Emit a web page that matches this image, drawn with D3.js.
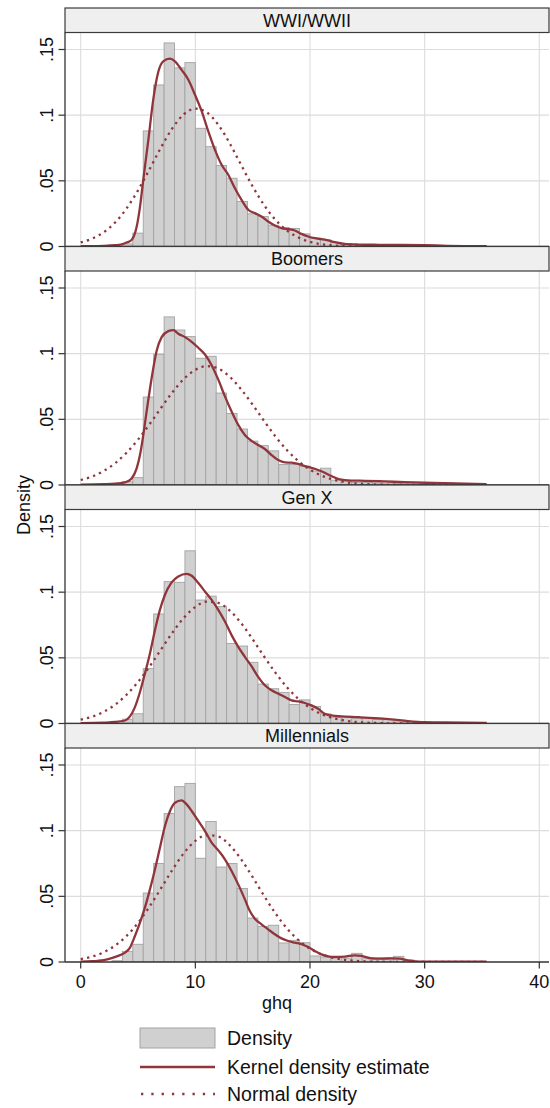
<!DOCTYPE html>
<html>
<head>
<meta charset="utf-8">
<script src="https://cdn.jsdelivr.net/npm/d3@7"></script>
<style>
  html, body { margin: 0; padding: 0; background: #ffffff; }
  svg { display: block; }
  text { font-family: "Liberation Sans", Arial, Helvetica, sans-serif; fill: #111; }
</style>
</head>
<body>
<svg id="chart" width="550" height="1108"></svg>
<script>
// ---------------- DATA ----------------
const panels = ["WWI/WWII", "Boomers", "Gen X", "Millennials"];

// histogram: bin width and start of first bin (bins are contiguous)
const binWidth = 10 / 11;
const firstBinStart = 3 * 10 / 11;   // 2.73
// densities for bins starting at 2.73, 3.64, 4.55, ... (one per bin)
const histWWI = [0, 0.002, 0.0102, 0.088, 0.123, 0.155, 0.136, 0.140, 0.090, 0.076, 0.0617, 0.052, 0.0343, 0.0249, 0.0228, 0.0162, 0.0145, 0.0137, 0.0096, 0.0063, 0.005, 0.003, 0.002, 0.0015, 0.0012, 0.0012, 0.001, 0.0012, 0.001, 0.0008, 0.0005];
const histBoomers = [0, 0.0025, 0.0056, 0.067, 0.0995, 0.128, 0.118, 0.113, 0.0965, 0.098, 0.070, 0.0545, 0.0426, 0.0334, 0.030, 0.026, 0.0156, 0.0156, 0.0143, 0.0105, 0.0128, 0.0037, 0.003, 0.002, 0.002, 0.0015, 0.0015, 0.0012, 0.001, 0.0008, 0.0005];
const histGenX = [0, 0.0033, 0.0074, 0.0418, 0.0834, 0.108, 0.1075, 0.1315, 0.094, 0.097, 0.089, 0.061, 0.059, 0.0466, 0.030, 0.0265, 0.0237, 0.0145, 0.018, 0.013, 0.0074, 0.0048, 0.0048, 0.004, 0.004, 0.003, 0.003, 0.002, 0.0015, 0.001, 0.0008];
const histMill = [0.001, 0.0081, 0.0135, 0.0525, 0.075, 0.113, 0.1335, 0.136, 0.079, 0.107, 0.0723, 0.075, 0.056, 0.0335, 0.027, 0.028, 0.0145, 0.0165, 0.0147, 0.0046, 0.0038, 0.0038, 0.003, 0.0066, 0.003, 0.003, 0.003, 0.0043, 0.0015, 0.0005, 0];

// kernel density estimates (x, density)
const kdeXWWI = [0, 1, 2, 3, 3.5, 4, 4.44, 4.88, 5.17, 5.46, 5.9, 6.33, 6.77, 7.2, 7.79, 8.22, 8.8, 9.39, 9.97, 10.55, 11.13, 11.71, 12.29, 12.87, 13.45, 14.03, 14.61, 15.19, 15.77, 16.35, 16.93, 17.51, 18.1, 18.68, 19.26, 19.84, 20.42, 21, 21.58, 22.16, 23, 24.2, 26, 28, 30, 32, 35.4];
const kdeYWWI = [0.0003, 0.0003, 0.0005, 0.001, 0.0015, 0.003, 0.005, 0.015, 0.030, 0.051, 0.081, 0.112, 0.133, 0.141, 0.143, 0.141, 0.1345, 0.127, 0.1155, 0.103, 0.0876, 0.0736, 0.0622, 0.0546, 0.0444, 0.0355, 0.028, 0.0254, 0.0228, 0.019, 0.016, 0.014, 0.0132, 0.0122, 0.0096, 0.0076, 0.0063, 0.0056, 0.0046, 0.0033, 0.002, 0.0015, 0.0013, 0.0012, 0.001, 0.0005, 0.0002];

const kdeXBoomers = [0, 2, 3, 3.5, 3.86, 4.44, 4.88, 5.17, 5.46, 5.75, 6.19, 6.62, 7.06, 7.64, 8.08, 8.51, 9.1, 9.68, 10.26, 10.84, 11.42, 12.0, 12.58, 13.16, 13.74, 14.32, 14.9, 15.48, 16.06, 16.65, 17.23, 17.81, 18.39, 18.97, 19.55, 20.13, 20.71, 21.29, 21.87, 22.6, 23.61, 24.78, 26.52, 28.27, 30.01, 31.75, 35.4];
const kdeYBoomers = [0.0003, 0.0006, 0.001, 0.0015, 0.002, 0.005, 0.0126, 0.0228, 0.038, 0.056, 0.0815, 0.102, 0.1126, 0.1172, 0.118, 0.1152, 0.1126, 0.109, 0.1045, 0.0994, 0.0912, 0.0802, 0.0675, 0.056, 0.0458, 0.0381, 0.0336, 0.0305, 0.0274, 0.0228, 0.019, 0.0172, 0.017, 0.016, 0.0144, 0.0131, 0.0114, 0.0093, 0.0068, 0.0042, 0.0034, 0.0032, 0.0027, 0.0022, 0.0017, 0.0014, 0.0006];

const kdeXGenX = [0, 2, 2.55, 3.3, 3.86, 4.3, 4.73, 5.17, 5.6, 6.04, 6.48, 6.91, 7.35, 7.93, 8.51, 9.24, 9.68, 10.26, 10.84, 11.42, 12.0, 12.58, 13.16, 13.74, 14.32, 14.9, 15.48, 16.06, 16.65, 17.23, 17.81, 18.39, 18.97, 19.55, 20.13, 20.71, 21.29, 21.87, 22.74, 24.2, 25.65, 27.1, 28.56, 30.01, 31.75, 35.4];
const kdeYGenX = [0.0003, 0.0006, 0.0009, 0.0015, 0.0023, 0.0054, 0.0125, 0.024, 0.038, 0.0533, 0.0712, 0.0865, 0.098, 0.1074, 0.112, 0.114, 0.1125, 0.1069, 0.1005, 0.0941, 0.0865, 0.0776, 0.0673, 0.0584, 0.0508, 0.0436, 0.0355, 0.0291, 0.0253, 0.0227, 0.0202, 0.0176, 0.0168, 0.0156, 0.0138, 0.0112, 0.0074, 0.0061, 0.0054, 0.0048, 0.0041, 0.0031, 0.0018, 0.001, 0.0008, 0.0004];

const kdeXMill = [0, 1, 2, 2.55, 3.2, 3.86, 4.3, 4.73, 5.17, 5.6, 6.04, 6.48, 6.91, 7.35, 7.79, 8.22, 8.8, 9.24, 9.68, 10.26, 10.84, 11.42, 12.0, 12.58, 13.16, 13.74, 14.32, 14.75, 15.19, 15.77, 16.35, 16.93, 17.51, 18.1, 18.68, 19.26, 19.84, 20.42, 21.0, 21.58, 22.16, 23.03, 23.9, 24.49, 25.36, 26.23, 27.1, 27.82, 28.56, 29.43, 31.75, 35.4];
const kdeYMill = [0.0003, 0.0006, 0.0015, 0.0025, 0.0045, 0.0071, 0.011, 0.0198, 0.030, 0.0414, 0.0553, 0.0706, 0.087, 0.1036, 0.115, 0.1213, 0.1231, 0.120, 0.115, 0.1074, 0.0997, 0.0909, 0.085, 0.0782, 0.0693, 0.0591, 0.0477, 0.0388, 0.033, 0.0287, 0.0249, 0.0211, 0.018, 0.016, 0.0147, 0.0135, 0.0114, 0.0084, 0.0058, 0.0043, 0.0038, 0.0041, 0.0051, 0.0046, 0.0028, 0.0025, 0.0028, 0.0025, 0.0013, 0.0003, 0.0003, 0.0002];

// normal densities read at x = 0, 1, 2, ... 27 (then ~0 up to 35.4)
const normX = [0, 1, 2, 3, 4, 5, 6, 7, 8, 9, 10, 11, 12, 13, 14, 15, 16, 17, 18, 19, 20, 21, 22, 23, 24, 25, 26, 27, 35.4];
const normWWI = [0.0031, 0.0060, 0.0108, 0.0183, 0.0290, 0.0427, 0.0587, 0.0753, 0.0901, 0.1007, 0.1050, 0.1021, 0.0927, 0.0785, 0.0620, 0.0457, 0.0315, 0.0202, 0.0121, 0.0068, 0.0035, 0.0017, 0.0008, 0.0003, 0.0001, 0, 0, 0, 0];
const normBoomers = [0.0038, 0.0065, 0.0107, 0.0166, 0.0246, 0.0346, 0.0462, 0.0586, 0.0706, 0.0808, 0.0877, 0.0905, 0.0886, 0.0824, 0.0728, 0.0611, 0.0487, 0.0368, 0.0265, 0.0181, 0.0117, 0.0072, 0.0042, 0.0023, 0.0012, 0.0006, 0.0003, 0.0001, 0];
const normGenX = [0.0029, 0.0052, 0.0089, 0.0143, 0.0219, 0.0316, 0.0433, 0.0563, 0.0692, 0.0805, 0.0888, 0.0928, 0.0918, 0.0860, 0.0763, 0.0641, 0.0510, 0.0385, 0.0275, 0.0186, 0.0119, 0.0072, 0.0041, 0.0023, 0.0012, 0.0006, 0.0003, 0.0001, 0];
const normMill = [0.0022, 0.0041, 0.0074, 0.0125, 0.0199, 0.0298, 0.0421, 0.0560, 0.0702, 0.0829, 0.0922, 0.0967, 0.0956, 0.0890, 0.0781, 0.0646, 0.0503, 0.0369, 0.0255, 0.0166, 0.0102, 0.0059, 0.0032, 0.0017, 0.0008, 0.0004, 0.0002, 0.0001, 0];

const xTicks = [0, 10, 20, 30, 40];
const yTicks = [0, 0.05, 0.1, 0.15];
const yTickLabels = ["0", ".05", ".1", ".15"];
const legendLabels = ["Density", "Kernel density estimate", "Normal density"];
const xTitle = "ghq";
const yTitle = "Density";

// ---------------- DRAWING ----------------
const hists = [histWWI, histBoomers, histGenX, histMill];
const kdes = [[kdeXWWI, kdeYWWI], [kdeXBoomers, kdeYBoomers], [kdeXGenX, kdeYGenX], [kdeXMill, kdeYMill]];
const norms = [normWWI, normBoomers, normGenX, normMill];

const RED = "#90353b";
const BAR_FILL = "#d0d0d0";
const BAR_STROKE = "#a3a3a3";
const GRID = "#dcdcdc";
const AXIS = "#333333";
const FONT = 18;

const svg = d3.select("#chart");
svg.append("rect").attr("width", 550).attr("height", 1108).attr("fill", "#fff");

const left = 65, right = 549;
const x = d3.scaleLinear().domain([0, 40]).range([80.7, 539.3]);
const panelTop0 = 8, panelStep = 238.5, headerH = 24.5;

const defs = svg.append("defs");

panels.forEach((name, i) => {
  const top = panelTop0 + i * panelStep;
  const plotTop = top + headerH;
  const plotBottom = top + panelStep;
  const y = d3.scaleLinear().domain([0, 0.15]).range([plotBottom, plotBottom - 197]);

  const clipId = "clip" + i;
  defs.append("clipPath").attr("id", clipId)
    .append("rect").attr("x", left).attr("y", plotTop).attr("width", right - left).attr("height", plotBottom - plotTop);

  const g = svg.append("g");
  const inner = g.append("g").attr("clip-path", `url(#${clipId})`);

  // grid
  inner.selectAll("line.vg").data(xTicks).join("line")
    .attr("x1", d => x(d)).attr("x2", d => x(d))
    .attr("y1", plotTop).attr("y2", plotBottom)
    .attr("stroke", GRID).attr("stroke-width", 1.1);
  inner.selectAll("line.hg").data(yTicks.filter(d => d > 0)).join("line")
    .attr("x1", left).attr("x2", right)
    .attr("y1", d => y(d)).attr("y2", d => y(d))
    .attr("stroke", GRID).attr("stroke-width", 1.1);

  // bars
  inner.selectAll("rect.bar").data(hists[i]).join("rect")
    .attr("x", (d, k) => x(firstBinStart + k * binWidth))
    .attr("width", (d, k) => x(firstBinStart + (k + 1) * binWidth) - x(firstBinStart + k * binWidth))
    .attr("y", d => y(d))
    .attr("height", d => y(0) - y(d))
    .attr("fill", BAR_FILL)
    .attr("stroke", BAR_STROKE)
    .attr("stroke-width", 0.9)
    .attr("display", d => d > 0 ? null : "none");

  // normal density (dotted)
  const normPts = normX.map((v, k) => [v, norms[i][k]]);
  inner.append("path")
    .datum(normPts)
    .attr("d", d3.line().x(d => x(d[0])).y(d => y(d[1])).curve(d3.curveMonotoneX))
    .attr("fill", "none").attr("stroke", RED)
    .attr("stroke-width", 2.3)
    .attr("stroke-dasharray", "2.3 4.2");

  // kernel density
  const kx = kdes[i][0], ky = kdes[i][1];
  const kdePts = kx.map((v, k) => [v, ky[k]]);
  inner.append("path")
    .datum(kdePts)
    .attr("d", d3.line().x(d => x(d[0])).y(d => y(d[1])).curve(d3.curveMonotoneX))
    .attr("fill", "none").attr("stroke", RED)
    .attr("stroke-width", 2.3)
    .attr("stroke-linejoin", "round");

  // axes lines
  g.append("line").attr("x1", left).attr("x2", left).attr("y1", plotTop).attr("y2", plotBottom)
    .attr("stroke", AXIS).attr("stroke-width", 1.3);
  g.append("line").attr("x1", left).attr("x2", right).attr("y1", plotBottom).attr("y2", plotBottom)
    .attr("stroke", AXIS).attr("stroke-width", 1.3);

  // y ticks + labels
  g.selectAll("line.yt").data(yTicks).join("line")
    .attr("x1", left - 6.5).attr("x2", left)
    .attr("y1", d => y(d)).attr("y2", d => y(d))
    .attr("stroke", AXIS).attr("stroke-width", 1.2);
  g.selectAll("text.yl").data(yTicks).join("text")
    .attr("transform", d => `translate(52.5,${y(d)}) rotate(-90)`)
    .attr("text-anchor", "middle")
    .attr("font-size", FONT)
    .text((d, k) => yTickLabels[k]);

  // header strip
  g.append("rect").attr("x", left).attr("y", top).attr("width", right - left).attr("height", headerH)
    .attr("fill", "#efefef").attr("stroke", "#3a3a3a").attr("stroke-width", 1.2);
  g.append("text").attr("x", (left + right) / 2).attr("y", top + 18.5)
    .attr("text-anchor", "middle").attr("font-size", FONT).text(name);

  // x axis on bottom panel
  if (i === panels.length - 1) {
    g.selectAll("line.xt").data(xTicks).join("line")
      .attr("x1", d => x(d)).attr("x2", d => x(d))
      .attr("y1", plotBottom).attr("y2", plotBottom + 6.5)
      .attr("stroke", AXIS).attr("stroke-width", 1.2);
    g.selectAll("text.xl").data(xTicks).join("text")
      .attr("x", d => x(d)).attr("y", plotBottom + 26)
      .attr("text-anchor", "middle").attr("font-size", FONT)
      .text(d => d);
  }
});

// axis titles
svg.append("text").attr("x", 277).attr("y", 1009).attr("text-anchor", "middle")
  .attr("font-size", FONT).text(xTitle);
svg.append("text").attr("transform", "translate(29.5,505) rotate(-90)")
  .attr("text-anchor", "middle").attr("font-size", FONT).text(yTitle);

// legend
const lg = svg.append("g");
const lx0 = 140, lx1 = 215, ltx = 227;
const rowY = [1038, 1067, 1094];
lg.append("rect").attr("x", lx0).attr("y", rowY[0] - 10).attr("width", lx1 - lx0).attr("height", 20)
  .attr("fill", BAR_FILL).attr("stroke", BAR_STROKE).attr("stroke-width", 1);
lg.append("line").attr("x1", lx0).attr("x2", lx1).attr("y1", rowY[1]).attr("y2", rowY[1])
  .attr("stroke", RED).attr("stroke-width", 2.3);
lg.append("line").attr("x1", lx0 + 1).attr("x2", lx1).attr("y1", rowY[2]).attr("y2", rowY[2])
  .attr("stroke", RED).attr("stroke-width", 2.3).attr("stroke-dasharray", "2.3 8");
lg.selectAll("text.lt").data(legendLabels).join("text")
  .attr("x", ltx).attr("y", (d, k) => rowY[k] + 7)
  .attr("font-size", 19.5).text(d => d);
</script>
</body>
</html>
